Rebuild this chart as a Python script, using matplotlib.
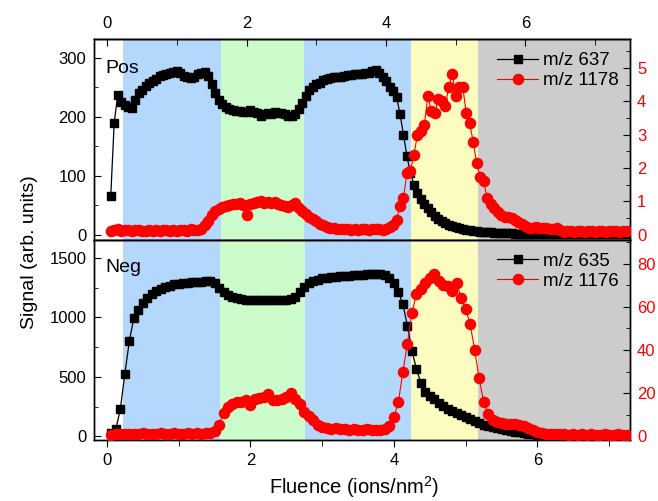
import numpy as np
import matplotlib
matplotlib.use("Agg")
import matplotlib.pyplot as plt
from matplotlib.ticker import MultipleLocator, FixedLocator

plt.rcParams['font.family'] = ['Liberation Sans', 'DejaVu Sans']
plt.rcParams['mathtext.fontset'] = 'custom'
plt.rcParams['mathtext.rm'] = 'Liberation Sans'
plt.rcParams['mathtext.default'] = 'regular'

# ---------------- data ----------------
# top panel (Pos), fluence grid
pos_x = np.round(np.arange(1, 150) * 0.05, 3)
pos_637 = [
    65, 190, 237, 226, 220, 216, 215, 228, 240, 246,
    252, 257, 261, 265, 270, 271, 273, 274, 276, 277,
    274, 270, 267, 266, 268, 273, 275, 276, 270, 256,
    240, 228, 221, 216, 213, 211, 210, 210, 209, 209,
    211, 208, 207, 201, 205, 206, 205, 208, 206, 206,
    204, 202, 201, 205, 214, 224, 236, 245, 250, 255,
    258, 262, 265, 266, 267, 268, 268, 270, 271, 271,
    272, 273, 273, 274, 275, 277, 279, 274, 268, 260,
    251, 244, 234, 205, 170, 133, 105, 85, 71, 61,
    52, 45, 38, 32, 27, 23, 20, 17, 15, 13,
    11, 10, 8.5, 7.5, 6.5, 5.8, 5.2, 4.7, 4.3, 3.9,
    3.5, 3.2, 3.0, 2.7, 2.5, 2.3, 2.1, 2.0, 1.9, 1.8,
    1.7, 1.6, 1.5, 1.5, 1.4, 1.3, 1.3, 1.2, 1.2, 1.1,
    1.1, 1.0, 1.0, 1.0, 0.9, 0.9, 0.9, 0.9, 0.8, 0.8,
    0.8, 0.8, 0.8, 0.7, 0.7, 0.7, 0.7, 0.7, 0.7,
]
pos_1178 = [
    0.12, 0.14, 0.17, 0.12, 0.13, 0.15, 0.11, 0.13, 0.14, 0.12,
    0.10, 0.13, 0.12, 0.15, 0.11, 0.14, 0.13, 0.12, 0.15, 0.11,
    0.13, 0.14, 0.12, 0.16, 0.13, 0.15, 0.17, 0.28, 0.42, 0.60,
    0.70, 0.78, 0.82, 0.87, 0.88, 0.91, 0.92, 0.94, 0.90, 0.60,
    0.93, 0.95, 0.97, 1.00, 0.96, 0.98, 0.94, 0.97, 0.93, 0.88,
    0.86, 0.84, 0.88, 0.94, 0.80, 0.70, 0.62, 0.54, 0.46, 0.40,
    0.33, 0.28, 0.24, 0.21, 0.19, 0.18, 0.17, 0.16, 0.17, 0.15,
    0.16, 0.15, 0.16, 0.17, 0.15, 0.16, 0.17, 0.18, 0.15, 0.17,
    0.22, 0.30, 0.45, 0.85, 1.10, 1.85, 1.92, 2.40, 2.99, 3.10,
    3.30, 4.17, 3.70, 3.65, 4.07, 4.02, 3.85, 4.44, 4.83, 4.16,
    4.44, 4.44, 3.65, 3.35, 2.78, 2.15, 1.72, 1.60, 1.10, 0.92,
    0.80, 0.68, 0.60, 0.54, 0.52, 0.49, 0.45, 0.39, 0.32, 0.26,
    0.21, 0.20, 0.22, 0.19, 0.20, 0.21, 0.18, 0.17, 0.19, 0.15,
    0.08, 0.10, 0.12, 0.09, 0.11, 0.10, 0.08, 0.10, 0.11, 0.09,
    0.10, 0.11, 0.09, 0.10, 0.12, 0.10, 0.09, 0.11, 0.10,
]

# bottom panel (Neg), fluence grid
neg_x = np.round(np.arange(1, 117) * 0.0625, 4)
neg_635 = [
    28, 62, 230, 527, 800, 997, 1065, 1120,
    1160, 1195, 1222, 1240, 1258, 1268, 1278, 1283,
    1288, 1292, 1295, 1297, 1300, 1303, 1308, 1290,
    1250, 1210, 1185, 1170, 1160, 1155, 1150, 1149,
    1147, 1145, 1144, 1143, 1142, 1143, 1142, 1144,
    1155, 1175, 1215, 1255, 1290, 1305, 1318, 1328,
    1335, 1340, 1343, 1346, 1350, 1352, 1353, 1355,
    1358, 1362, 1365, 1367, 1365, 1360, 1335, 1290,
    1215, 1110, 930, 720, 570, 450, 370, 335,
    310, 282, 258, 232, 215, 198, 182, 163,
    148, 132, 112, 98, 85, 76, 67, 58,
    52, 46, 40, 34, 28, 22, 17, 13,
    9, 7, 6, 5, 4.5, 4, 3.5, 3,
    3, 3, 2.5, 2.5, 2.5, 2, 2, 2,
    2, 2, 2, 2,
]
neg_1176 = [
    0.5, 1.0, 1.2, 1.0, 1.3, 1.1, 1.2, 1.4,
    1.2, 1.3, 1.1, 1.4, 1.2, 1.3, 1.5, 1.2,
    1.3, 1.4, 1.2, 1.5, 1.3, 1.4, 1.6, 2.5,
    5.5, 11.0, 13.5, 15.1, 15.9, 16.0, 16.7, 14.4,
    17.4, 18.0, 18.5, 19.5, 16.7, 17.0, 17.5, 18.2,
    20.0, 17.4, 15.0, 11.5, 9.5, 7.5, 5.5, 4.4,
    4.0, 3.6, 3.8, 3.3, 3.5, 3.0, 3.4, 3.2,
    3.0, 3.3, 2.8, 3.1, 2.9, 3.3, 5.0, 9.0,
    16, 30, 43, 57, 66, 68.5, 71, 73.5,
    75, 72, 70, 69.9, 67.5, 71, 64, 59,
    52, 40, 27, 16, 10.5, 7.5, 6.8, 6.3,
    6.0, 5.8, 5.6, 5.3, 5.0, 3.8, 2.8, 2.2,
    1.6, 1.3, 1.2, 1.1, 1.0, 1.0, 0.9, 1.0,
    0.9, 1.0, 0.8, 1.0, 0.9, 0.8, 1.0, 0.9,
    0.9, 1.0, 0.8, 0.9,
]

x_major = [0, 2, 4, 6]
x_minor = [1, 3, 5, 7]

# background regions (edges in each panel's fluence units)
band_colors = ['#b3d8fc', '#ccfccc', '#b3d8fc', '#fdfcc0', '#cccccc']
bands_top = [0.23, 1.63, 2.83, 4.36, 5.32, 7.6]
bands_bot = [0.22, 1.58, 2.76, 4.24, 5.17, 7.4]

# ---------------- figure ----------------
fig = plt.figure(figsize=(6.58, 5.01), dpi=100)
L, R = 94 / 658, 630 / 658
ax1 = fig.add_axes([L, 1 - 239.5 / 501, R - L, (239.5 - 39) / 501])
ax2 = fig.add_axes([L, 1 - 439.5 / 501, R - L, (439.5 - 239.5) / 501])

RED = '#ff0000'
tick_fs = 12


def style_panel(ax, axr, bands, xlim, ylim, ylim_r, ymaj, ymin, rmaj, rmin):
    for i, c in enumerate(band_colors):
        ax.axvspan(bands[i], bands[i + 1], color=c, lw=0, zorder=0)
    ax.set_xlim(*xlim)
    ax.set_ylim(*ylim)
    axr.set_ylim(*ylim_r)
    ax.xaxis.set_major_locator(FixedLocator(x_major))
    ax.xaxis.set_minor_locator(FixedLocator(x_minor))
    ax.yaxis.set_major_locator(MultipleLocator(ymaj))
    ax.yaxis.set_minor_locator(MultipleLocator(ymin))
    axr.yaxis.set_major_locator(MultipleLocator(rmaj))
    axr.yaxis.set_minor_locator(MultipleLocator(rmin))
    ax.tick_params(axis='y', which='both', direction='in', labelsize=tick_fs,
                   left=True, right=False, pad=5.5)
    ax.tick_params(axis='y', which='major', length=5)
    ax.tick_params(axis='y', which='minor', length=3)
    axr.tick_params(axis='y', which='both', direction='in', labelsize=tick_fs,
                    colors='black', labelcolor=RED, pad=5)
    axr.tick_params(axis='y', which='major', length=5)
    axr.tick_params(axis='y', which='minor', length=3)
    ax.tick_params(axis='x', which='both', direction='out', labelsize=tick_fs,
                   top=False, pad=5)
    ax.tick_params(axis='x', which='major', length=5)
    ax.tick_params(axis='x', which='minor', length=4)
    for a in (ax, axr):
        for s in a.spines.values():
            s.set_linewidth(1.0)


# top panel
ax1r = ax1.twinx()
style_panel(ax1, ax1r, bands_top, (-0.19, 7.5), (-8, 332), (-0.148, 5.87),
            100, 50, 1, 0.5)
ax1.tick_params(axis='x', labelbottom=False)
sec = ax1.secondary_xaxis('top')
sec.xaxis.set_major_locator(FixedLocator(x_major))
sec.xaxis.set_minor_locator(FixedLocator(x_minor))
sec.tick_params(axis='x', which='both', direction='in', labelsize=tick_fs, pad=6)
sec.tick_params(axis='x', which='major', length=5)
sec.tick_params(axis='x', which='minor', length=4)
sec.spines['top'].set_linewidth(1.0)

l1, = ax1.plot(pos_x, pos_637, '-s', color='black', ms=6, lw=0.9,
               mec='black', label='m/z 637', zorder=3)
l2, = ax1r.plot(pos_x, pos_1178, '-o', color=RED, ms=7.3, lw=0.8,
                mec=RED, label='m/z 1178', zorder=3)
ax1r.legend([l1, l2], ['m/z 637', 'm/z 1178'], loc='upper right',
            bbox_to_anchor=(1.0, 0.99), frameon=False, fontsize=13.5,
            handlelength=2.2, handletextpad=0.25, labelspacing=0.15,
            borderaxespad=0.2)
ax1.text(0.022, 0.855, 'Pos', transform=ax1.transAxes, fontsize=14,
         ha='left', va='center')

# bottom panel
ax2r = ax2.twinx()
style_panel(ax2, ax2r, bands_bot, (-0.18, 7.29), (-27, 1655), (-1.4, 91.2),
            500, 250, 20, 10)
l3, = ax2.plot(neg_x, neg_635, '-s', color='black', ms=6, lw=0.9,
               mec='black', label='m/z 635', zorder=3)
l4, = ax2r.plot(neg_x, neg_1176, '-o', color=RED, ms=7.3, lw=0.8,
                mec=RED, label='m/z 1176', zorder=3)
ax2r.legend([l3, l4], ['m/z 635', 'm/z 1176'], loc='upper right',
            bbox_to_anchor=(1.0, 0.99), frameon=False, fontsize=13.5,
            handlelength=2.2, handletextpad=0.25, labelspacing=0.15,
            borderaxespad=0.2)
ax2.text(0.022, 0.862, 'Neg', transform=ax2.transAxes, fontsize=14,
         ha='left', va='center')

fig.text(30 / 658, 1 - 252 / 501, 'Signal (arb. units)', rotation=90,
         fontsize=14, ha='center', va='center')
fig.text(354 / 658, 1 - 487 / 501, 'Fluence (ions/nm$^2$)', fontsize=14.5,
         ha='center', va='center')

fig.savefig('out.png', dpi=100)
